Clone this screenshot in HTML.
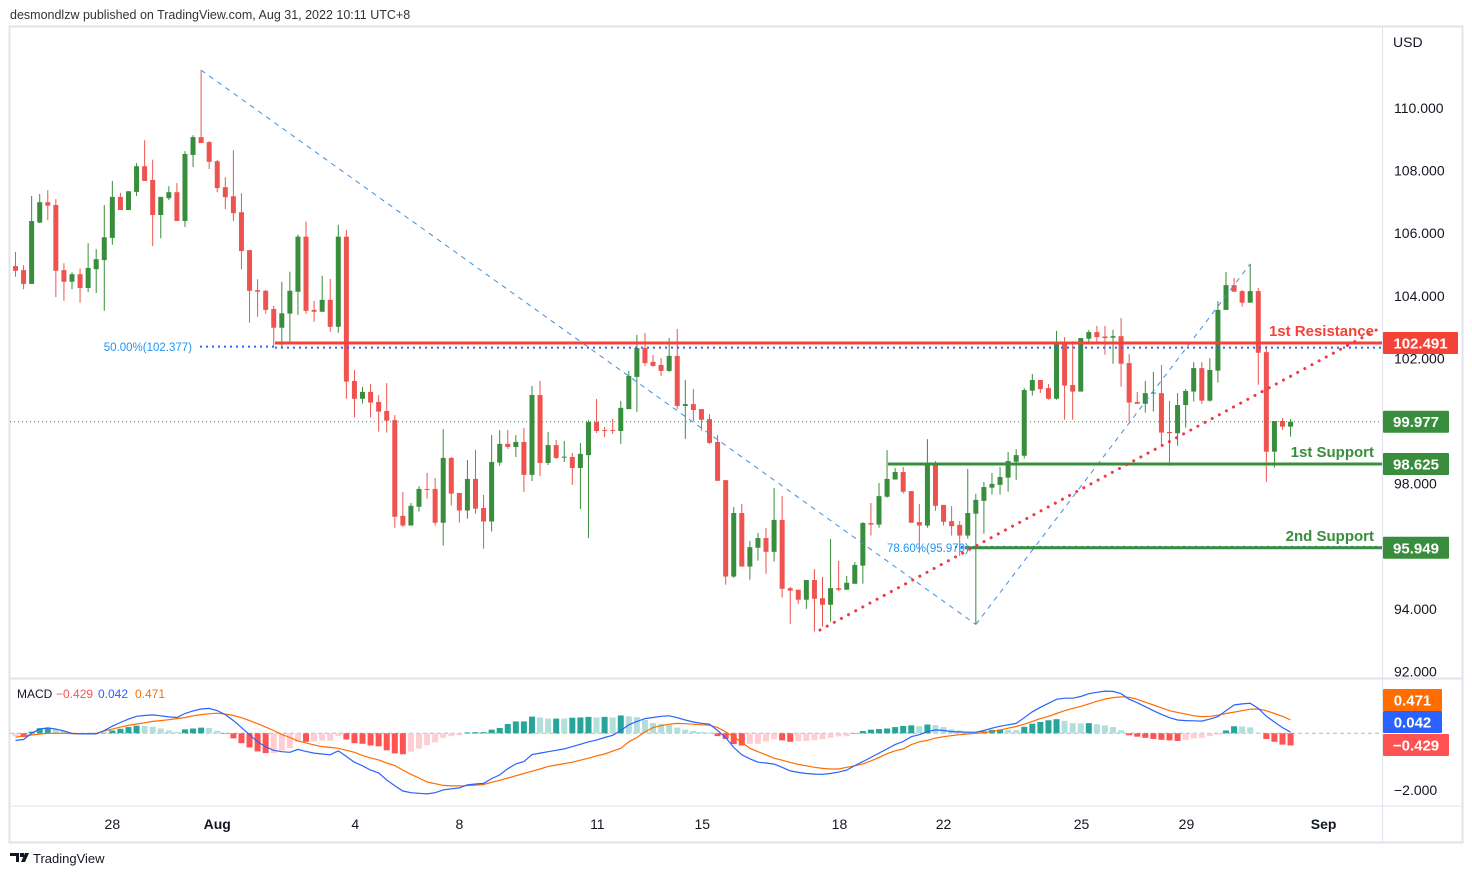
<!DOCTYPE html>
<html><head><meta charset="utf-8">
<style>
html,body{margin:0;padding:0;background:#fff;width:1472px;height:877px;overflow:hidden;font-family:"Liberation Sans","DejaVu Sans",sans-serif;}
svg{position:absolute;left:0;top:0;}
</style></head>
<body>
<svg id="chart" width="1472" height="877" viewBox="0 0 1472 877" xmlns="http://www.w3.org/2000/svg">
  <text x="10" y="19" font-size="12.5" fill="#333">desmondlzw published on TradingView.com, Aug 31, 2022 10:11 UTC+8</text>
  <rect x="9.5" y="26.5" width="1453" height="816" fill="#fff" stroke="#e0e3eb" stroke-width="2"/>
  <line x1="1382.5" y1="27" x2="1382.5" y2="842" stroke="#e0e3eb" stroke-width="1"/>
  <line x1="10" y1="678.5" x2="1462" y2="678.5" stroke="#e0e3eb" stroke-width="2"/>
  <line x1="10" y1="806" x2="1462" y2="806" stroke="#e0e3eb" stroke-width="1"/>
  <text x="1393" y="47" font-size="14" fill="#131722">USD</text>
  <g id="gAxis"></g>
  <g id="gMacd"></g>
  <g id="gCandles"></g>
  <g id="gDraw"></g>
  <g id="gLabels"></g>
  <text x="17" y="698" font-size="12" fill="#131722">MACD</text>
  <text x="56" y="698" font-size="12" fill="#ff5252">−0.429</text>
  <text x="98" y="698" font-size="12" fill="#2962ff">0.042</text>
  <text x="135" y="698" font-size="12" fill="#ff6d00">0.471</text>
  <g>
    <path d="M10 853h9v9h-3v-6h-6z M20 853h4v4h-4z M25 853h4l-4 9h-4z" fill="#131722"/>
    <text x="33" y="863" font-size="13" fill="#131722">TradingView</text>
  </g>
</svg>
<script>
const opens=[104.95,104.82,104.38,106.34,106.99,106.90,104.82,104.45,104.69,104.25,104.85,105.14,105.85,107.16,106.74,107.32,108.14,107.70,106.58,107.12,107.31,106.39,108.50,109.07,108.91,108.30,107.47,107.18,106.67,105.46,104.18,104.16,103.58,102.98,103.43,104.13,105.89,103.55,103.49,103.87,103.01,105.89,101.28,100.71,100.93,100.61,100.32,100.03,96.97,96.66,97.26,97.83,97.83,96.75,98.82,97.70,97.14,98.15,97.22,96.79,98.67,99.27,99.17,99.33,98.28,100.83,98.66,99.23,98.83,98.85,98.50,98.91,99.97,99.71,99.71,99.68,100.38,101.41,102.33,101.89,101.79,101.60,102.08,100.48,100.54,100.38,100.06,99.33,98.11,95.03,97.06,95.35,95.95,96.26,95.82,96.84,94.66,94.61,94.29,94.92,94.34,94.13,94.66,94.61,94.80,95.38,96.74,96.69,97.58,98.13,98.37,97.76,96.77,96.66,98.66,97.32,96.80,96.68,96.34,97.04,97.45,97.87,97.96,98.19,98.70,98.89,100.97,101.31,101.05,100.71,102.52,101.15,100.94,102.63,102.84,102.70,102.66,102.71,101.85,100.61,100.55,100.88,100.89,99.65,99.61,100.51,100.94,101.69,100.65,101.61,103.55,104.34,104.15,103.78,104.15,102.20,99.02,100.00,99.82];
const highs=[105.40,104.98,107.19,107.25,107.38,107.09,105.04,104.75,104.87,105.68,105.49,106.90,107.67,107.29,107.34,108.24,108.97,108.35,107.16,107.50,107.60,108.62,109.13,111.21,108.94,108.34,107.79,108.65,107.28,105.46,104.53,104.19,103.68,104.45,104.77,105.95,106.37,103.84,104.64,104.54,106.27,106.10,101.63,101.09,101.18,100.83,101.21,100.19,97.73,97.38,97.92,98.34,98.18,99.74,98.85,97.70,98.75,99.08,97.64,99.55,99.71,99.71,99.55,99.78,101.12,101.28,99.65,99.39,99.36,98.98,99.30,100.03,100.70,99.81,100.07,100.64,101.60,102.75,102.81,102.11,102.01,102.65,102.94,101.31,101.02,100.38,100.22,99.55,98.11,97.25,97.35,96.17,96.42,96.58,97.86,97.60,94.70,94.61,94.92,95.27,95.02,96.23,95.53,95.05,95.49,96.77,97.38,98.02,99.07,98.50,98.53,97.76,97.35,99.42,98.72,97.32,97.28,96.80,98.47,97.67,98.05,98.34,98.53,99.01,99.10,101.05,101.50,101.31,101.18,102.88,102.68,102.55,102.65,102.91,103.04,103.04,102.91,103.29,102.14,100.93,101.28,101.57,101.79,100.64,100.89,101.02,101.88,101.88,102.01,103.83,104.76,104.57,104.18,105.02,104.25,102.40,100.00,100.10,100.06];
const lows=[104.61,104.21,104.38,106.32,106.42,103.96,103.84,104.21,103.78,104.12,104.09,103.52,105.63,106.74,106.74,107.19,107.67,105.59,105.84,107.06,106.39,106.20,108.11,108.88,108.05,107.31,106.77,106.39,104.85,103.14,103.33,103.43,102.40,102.37,102.47,103.39,103.43,103.17,103.49,102.85,102.82,100.71,100.11,100.56,100.11,99.66,99.63,96.59,96.62,96.66,97.11,97.52,96.66,96.02,97.30,96.75,96.88,97.04,95.92,96.47,98.57,99.11,98.85,97.73,98.08,98.24,98.59,98.79,98.69,97.96,97.19,96.26,99.62,99.49,99.59,99.27,100.38,100.29,101.76,101.73,101.44,101.57,100.38,99.43,100.00,99.69,99.27,98.09,94.77,94.99,95.35,94.93,95.54,95.12,95.51,94.36,93.52,94.16,94.00,93.28,93.43,93.59,94.57,94.61,94.80,94.80,96.34,96.59,97.55,98.13,97.68,96.75,95.79,96.59,97.13,96.66,96.34,95.69,96.24,93.50,96.40,97.65,97.65,97.74,98.12,98.80,100.81,100.90,100.68,100.68,100.04,100.04,100.94,102.47,102.52,102.12,101.83,101.10,99.98,100.55,100.27,100.30,99.21,98.57,99.21,99.79,100.62,100.55,100.62,101.23,103.55,104.13,103.65,103.78,101.16,98.06,98.51,99.72,99.50];
const closes=[104.80,104.38,106.39,106.99,106.88,104.80,104.45,104.69,104.25,104.89,105.17,105.87,107.16,106.74,107.34,108.14,107.67,106.58,107.16,107.31,106.39,108.53,109.07,108.88,108.28,107.44,107.15,106.64,105.43,104.16,104.13,103.55,102.98,103.44,104.16,105.89,103.52,103.49,103.87,103.01,105.89,101.26,100.71,100.93,100.59,100.30,100.01,96.94,96.66,97.29,97.83,97.81,96.75,98.82,97.68,97.14,98.15,97.20,96.79,98.69,99.27,99.17,99.33,98.28,100.83,98.66,99.23,98.82,98.86,98.50,98.95,99.97,99.68,99.69,99.69,100.42,101.44,102.33,101.85,101.76,101.60,102.08,100.48,100.54,100.35,100.04,99.30,98.09,95.03,97.06,95.35,95.97,96.26,95.82,96.84,94.64,94.58,94.29,94.92,94.32,94.13,94.66,94.61,94.83,95.40,96.74,96.69,97.60,98.15,98.37,97.74,96.75,96.66,98.66,97.29,96.78,96.64,96.34,97.06,97.48,97.89,97.99,98.21,98.72,98.91,100.99,101.31,101.02,100.71,102.52,101.13,100.94,102.65,102.84,102.68,102.65,102.71,101.83,100.59,100.55,100.89,100.91,99.63,99.61,100.51,100.96,101.69,100.65,101.63,103.55,104.34,104.13,103.78,104.15,102.18,99.02,100.00,99.82,99.98];
const macdVals=[-0.25,-0.22,0.0,0.15,0.19,0.15,0.08,0.0,-0.02,-0.02,-0.02,0.1,0.25,0.38,0.5,0.6,0.63,0.65,0.62,0.58,0.56,0.7,0.79,0.86,0.88,0.8,0.66,0.45,0.2,-0.05,-0.3,-0.48,-0.6,-0.65,-0.67,-0.57,-0.64,-0.7,-0.73,-0.76,-0.62,-0.82,-1.02,-1.15,-1.3,-1.4,-1.65,-1.85,-2.04,-2.1,-2.12,-2.14,-2.1,-2.0,-1.96,-1.93,-1.82,-1.79,-1.77,-1.6,-1.47,-1.25,-1.08,-1.0,-0.75,-0.7,-0.65,-0.6,-0.55,-0.47,-0.39,-0.3,-0.24,-0.15,-0.07,0.1,0.3,0.42,0.52,0.56,0.6,0.62,0.55,0.47,0.4,0.35,0.32,0.1,-0.15,-0.5,-0.76,-0.9,-1.02,-1.05,-1.09,-1.2,-1.33,-1.38,-1.42,-1.44,-1.45,-1.42,-1.37,-1.3,-1.14,-1.0,-0.85,-0.7,-0.55,-0.4,-0.29,-0.12,-0.05,0.06,0.12,0.1,0.06,0.05,0.04,0.04,0.1,0.18,0.25,0.3,0.35,0.55,0.76,0.92,1.06,1.2,1.24,1.24,1.3,1.4,1.45,1.49,1.48,1.4,1.2,1.08,0.94,0.8,0.67,0.55,0.47,0.45,0.44,0.43,0.5,0.59,0.8,1.0,1.04,1.06,0.88,0.6,0.4,0.2,0.04];
const signalVals=[-0.14,-0.09,-0.06,-0.03,0,0,0,-0.01,-0.02,-0.01,0,0.08,0.15,0.22,0.28,0.33,0.37,0.42,0.45,0.48,0.52,0.56,0.62,0.66,0.69,0.71,0.68,0.63,0.55,0.45,0.34,0.22,0.1,-0.04,-0.15,-0.27,-0.34,-0.41,-0.47,-0.5,-0.53,-0.6,-0.67,-0.78,-0.87,-0.94,-1.05,-1.14,-1.3,-1.45,-1.58,-1.72,-1.78,-1.84,-1.86,-1.86,-1.85,-1.83,-1.81,-1.73,-1.66,-1.58,-1.5,-1.42,-1.34,-1.26,-1.17,-1.12,-1.07,-1.02,-0.95,-0.88,-0.8,-0.73,-0.63,-0.53,-0.3,-0.15,0.05,0.2,0.27,0.32,0.35,0.34,0.32,0.3,0.29,0.2,0.05,-0.12,-0.33,-0.53,-0.65,-0.76,-0.88,-0.95,-1.03,-1.1,-1.15,-1.2,-1.24,-1.26,-1.26,-1.2,-1.15,-1.08,-0.98,-0.85,-0.72,-0.62,-0.55,-0.4,-0.3,-0.25,-0.17,-0.12,-0.08,-0.05,-0.02,0.0,0.03,0.06,0.12,0.18,0.24,0.32,0.42,0.52,0.6,0.7,0.8,0.88,0.95,1.04,1.13,1.21,1.26,1.29,1.27,1.2,1.1,1.0,0.9,0.8,0.74,0.68,0.62,0.59,0.6,0.64,0.7,0.75,0.8,0.85,0.86,0.8,0.7,0.6,0.47];
const priceTicks=[110,108,106,104,102,98,94,92];
const timeLabels=["28","Aug","4","8","11","15","18","22","25","29","Sep"];
const timeIdx=[12.0,25.0,42.1,55.0,72.1,85.1,102.1,115.0,132.1,145.1,162.1];
const levelResistance=102.491, levelSupport1=98.625, levelSupport2=95.949, lastPrice=99.977;
const fib50=102.377, fib786=95.979;
const macdLast=0.042, signalLast=0.471, histLast=-0.429;

const NS="http://www.w3.org/2000/svg";
const X=i=>15.5+i*8.07;
const Y=p=>108+(110-p)*31.3;
const MY=v=>733.3-v*28.3;
function el(tag,attrs,parent){const e=document.createElementNS(NS,tag);for(const k in attrs)e.setAttribute(k,attrs[k]);parent.appendChild(e);return e;}
const gA=document.getElementById('gAxis'),gM=document.getElementById('gMacd'),gC=document.getElementById('gCandles'),gD=document.getElementById('gDraw'),gL=document.getElementById('gLabels');

priceTicks.forEach(p=>{const t=el('text',{x:1394,y:Y(p)+5,'font-size':14,fill:'#131722'},gA);t.textContent=p.toFixed(3);

});
timeLabels.forEach((s,k)=>{const bold=(s==='Aug'||s==='Sep');const t=el('text',{x:X(timeIdx[k]),y:829,'font-size':14,fill:'#131722','text-anchor':'middle','font-weight':bold?'bold':'normal'},gA);t.textContent=s;

});
{const t=el('text',{x:1394,y:795,'font-size':14,fill:'#131722'},gA);t.textContent='−2.000';

}

// last price line
{const l=el('line',{x1:10,y1:Y(lastPrice),x2:1382,y2:Y(lastPrice),stroke:'#388e3c','stroke-width':1,'stroke-dasharray':'1 3'},gD);

}

// MACD
const zl=el('line',{x1:10,y1:MY(0),x2:1382,y2:MY(0),stroke:'#b2b5be','stroke-width':1,'stroke-dasharray':'4 3'},gM);


for(let i=0;i<macdVals.length;i++){
  const h=macdVals[i]-signalVals[i];const hp=i>0?macdVals[i-1]-signalVals[i-1]:h;
  let c;if(h>=0)c=(h>=hp)?'#26a69a':'#b2dfdb';else c=(h<hp)?'#ff5252':'#ffcdd2';
  const y0=MY(0),y1=MY(h);
  const r=el('rect',{x:X(i)-3,y:Math.min(y0,y1),width:6,height:Math.max(0.5,Math.abs(y1-y0)),fill:c},gM);
  
  
}
function pl(vals,color,name){const pts=vals.map((v,i)=>X(i).toFixed(1)+','+MY(v).toFixed(1)).join(' ');const p=el('polyline',{points:pts,fill:'none',stroke:color,'stroke-width':1.2},gM);

}
pl(signalVals,'#ff6d00','macd-signal-line');
pl(macdVals,'#2962ff','macd-line');

// candles
for(let i=0;i<opens.length;i++){
  const up=closes[i]>=opens[i];const c=up?'#388e3c':'#ef5350';const x=X(i);
  const w=el('line',{x1:x,y1:Y(highs[i]),x2:x,y2:Y(lows[i]),stroke:c,'stroke-width':1},gC);
  
  
  const yt=Y(Math.max(opens[i],closes[i])),yb=Y(Math.min(opens[i],closes[i]));
  const b=el('rect',{x:x-2.5,y:yt,width:5,height:Math.max(1,yb-yt),fill:c},gC);
  
  
}

// drawings
function ln(a,name){const l=el('line',a,gD);return l;}
ln({x1:X(23),y1:Y(111.21),x2:X(119),y2:Y(93.50),stroke:'#3d8fe0','stroke-width':1,'stroke-dasharray':'5 5'},'fib-trend-line-down');
ln({x1:X(119),y1:Y(93.50),x2:X(153),y2:Y(105.02),stroke:'#3d8fe0','stroke-width':1,'stroke-dasharray':'5 5'},'fib-trend-line-up');
ln({x1:200,y1:Y(fib50),x2:275,y2:Y(fib50),stroke:'#2962ff','stroke-width':2,'stroke-dasharray':'2 4'},'fib-50-level');
ln({x1:275,y1:Y(fib50)+1,x2:1382,y2:Y(fib50)+1,stroke:'#2962ff','stroke-width':2,'stroke-dasharray':'2 4'},'fib-50-extension');
ln({x1:955,y1:Y(fib786),x2:1382,y2:Y(fib786),stroke:'#2962ff','stroke-width':2,'stroke-dasharray':'2 4'},'fib-786-level');
ln({x1:275,y1:Y(levelResistance),x2:1382,y2:Y(levelResistance),stroke:'#f44336','stroke-width':3},'resistance-line');
ln({x1:888,y1:Y(levelSupport1),x2:1382,y2:Y(levelSupport1),stroke:'#388e3c','stroke-width':3},'support-1-line');
ln({x1:965,y1:Y(levelSupport2),x2:1382,y2:Y(levelSupport2),stroke:'#388e3c','stroke-width':3},'support-2-line');
ln({x1:820,y1:630,x2:1380,y2:328,stroke:'#f23645','stroke-width':3,'stroke-dasharray':'0.1 8','stroke-linecap':'round'},'rising-trendline');

function tx(x,y,s,attrs,name){const t=el('text',Object.assign({x:x,y:y},attrs),gL);t.textContent=s;return t;}
tx(192,351,'50.00%(102.377)',{'font-size':11.5,fill:'#2196f3','text-anchor':'end'},'fib-50-label');
tx(887,552,'78.60%(95.979)',{'font-size':11.5,fill:'#2196f3'},'fib-786-label');
tx(1374,336,'1st Resistance',{'font-size':15,fill:'#f44336','font-weight':'bold','text-anchor':'end'},'resistance-label');
tx(1374,457,'1st Support',{'font-size':15,fill:'#388e3c','font-weight':'bold','text-anchor':'end'},'support-1-label');
tx(1374,541,'2nd Support',{'font-size':15,fill:'#388e3c','font-weight':'bold','text-anchor':'end'},'support-2-label');

function tag(yc,val,bg,w,name,yfn){const r=el('rect',{x:1383,y:yc-11,width:w,height:22,fill:bg,rx:1},gL);
const t=el('text',{x:1383+w/2,y:yc+5.5,'font-size':15,'font-weight':'bold',fill:'#fff','text-anchor':'middle'},gL);t.textContent=val;}
tag(Y(levelResistance),levelResistance.toFixed(3),'#f44336',75,'resistance-price-tag');
tag(Y(lastPrice),lastPrice.toFixed(3),'#388e3c',66,'last-price-tag');
tag(Y(levelSupport1),levelSupport1.toFixed(3),'#388e3c',66,'support-1-price-tag');
tag(Y(levelSupport2),levelSupport2.toFixed(3),'#388e3c',66,'support-2-price-tag');
tag(700,signalLast.toFixed(3),'#ff6d00',59,'signal-value-tag');
tag(722,macdLast.toFixed(3),'#2962ff',59,'macd-value-tag');
tag(745,'−'+Math.abs(histLast).toFixed(3),'#ff5252',66,'histogram-value-tag');
</script>
</body></html>
